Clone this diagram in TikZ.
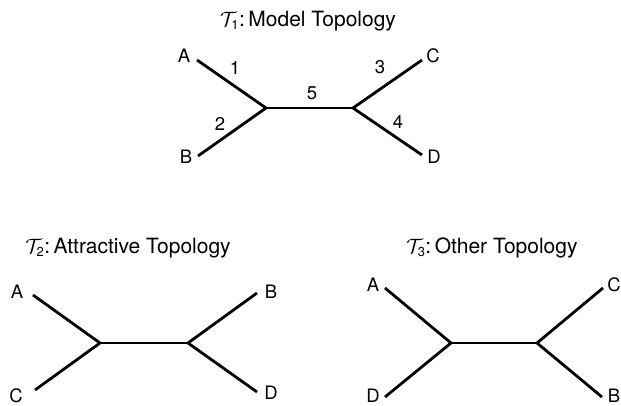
\documentclass[tikz,border=0pt]{standalone}
\usepackage{fontspec}
\setmainfont{TeX Gyre Heros}
\begin{document}
\begin{tikzpicture}[x=1pt,y=-1pt,
  branch/.style={line width=2.8pt, line cap=butt},
  leaf/.style={inner sep=0pt, font=\fontsize{18.5}{18.5}\selectfont},
  blen/.style={inner sep=0pt, font=\fontsize{18.5}{18.5}\selectfont},
  ttl/.style={inner sep=0pt, font=\fontsize{21}{21}\selectfont}]
\useasboundingbox (0,0) rectangle (621,406);
\newcommand{\topo}[1]{$\mathcal{T}_{\mbox{\fontsize{13}{13}\selectfont #1}}$}

% --- T1: model topology, with branch numbers ---
\node[ttl] (t1) at (308,21) {\topo{1}:\,Model Topology};
\coordinate (l1) at (266,108);
\coordinate (r1) at (353,108);
\coordinate (a1) at (197,60);
\coordinate (b1) at (198,156);
\coordinate (c1) at (422,60);
\coordinate (d1) at (422,155);
\node[leaf] (A1) at (184,56) {A};
\node[leaf] (B1) at (186,157) {B};
\node[leaf] (C1) at (433,56) {C};
\node[leaf] (D1) at (434,157) {D};
\draw[branch] (a1) -- (l1) -- (b1);
\draw[branch] (l1) -- (r1);
\draw[branch] (c1) -- (r1) -- (d1);
\node[blen] (n1) at (235,68) {1};
\node[blen] (n2) at (220,124) {2};
\node[blen] (n3) at (380,67) {3};
\node[blen] (n4) at (398,122) {4};
\node[blen] (n5) at (312,93) {5};

% --- T2: attractive topology ---
\node[ttl] (t2) at (128,248) {\topo{2}:\,Attractive Topology};
\coordinate (l2) at (100,343);
\coordinate (r2) at (188,343);
\coordinate (a2) at (33,295);
\coordinate (c2) at (35,390);
\coordinate (b2) at (257,293);
\coordinate (d2) at (257,392);
\node[leaf] (A2) at (17,292) {A};
\node[leaf] (C2) at (16,396) {C};
\node[leaf] (B2) at (271,292) {B};
\node[leaf] (D2) at (271,393) {D};
\draw[branch] (a2) -- (l2) -- (c2);
\draw[branch] (l2) -- (r2);
\draw[branch] (b2) -- (r2) -- (d2);

% --- T3: other topology ---
\node[ttl] (t3) at (492,248) {\topo{3}:\,Other Topology};
\coordinate (l3) at (451,343);
\coordinate (r3) at (537,343);
\coordinate (a3) at (385,288);
\coordinate (d3) at (385,397);
\coordinate (c3) at (603,288);
\coordinate (b3) at (602,397);
\node[leaf] (A3) at (373,285) {A};
\node[leaf] (D3) at (373,395.5) {D};
\node[leaf] (C3) at (614,285) {C};
\node[leaf] (B3) at (614,395.5) {B};
\draw[branch] (a3) -- (l3) -- (d3);
\draw[branch] (l3) -- (r3);
\draw[branch] (c3) -- (r3) -- (b3);
\end{tikzpicture}
\end{document}
